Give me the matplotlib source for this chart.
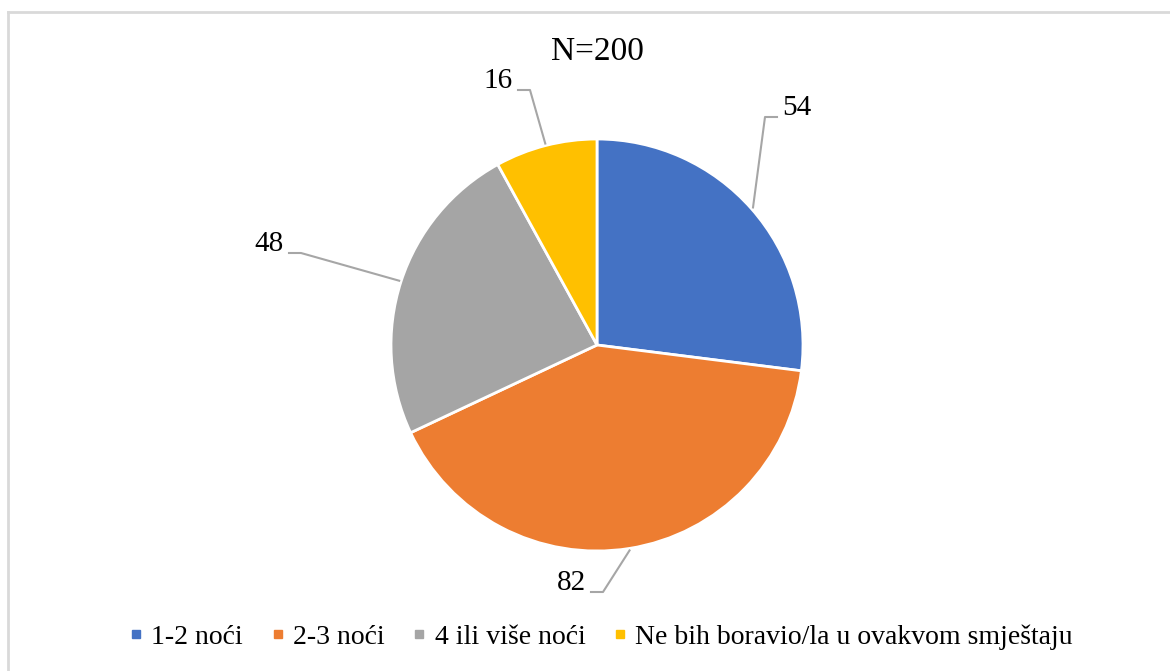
import numpy as np
import matplotlib
matplotlib.use("Agg")
import matplotlib.pyplot as plt
from matplotlib.lines import Line2D

# --- podaci ---
kategorije = ["1-2 noći", "2-3 noći", "4 ili više noći", "Ne bih boravio/la u ovakvom smještaju"]
vrijednosti = [54, 82, 48, 16]
naslov = "N=200"
boje = ["#4472C4", "#ED7D31", "#A5A5A5", "#FFC000"]

plt.rcParams['font.family'] = ['Liberation Serif', 'DejaVu Serif']

W, H = 1170, 671
fig = plt.figure(figsize=(W / 100, H / 100), dpi=100)
ax = fig.add_axes([0, 0, 1, 1])

# pozicije u pikselima (y od vrha slike)
cx, cy, r = 597, 345, 206


def py(y):
    return H - y


wedges, _ = ax.pie(vrijednosti, colors=boje, startangle=90, counterclock=False,
                   center=(cx, py(cy)), radius=r,
                   wedgeprops=dict(edgecolor="white", linewidth=2))

ax.set_xlim(0, W)
ax.set_ylim(0, H)
ax.set_aspect("equal")
ax.axis("off")

# okvir grafikona (vidljivi samo gornji i lijevi rub)
ax.plot([8, 8], [py(12), 0], color="#d9d9d9", lw=2, clip_on=False)
ax.plot([8, W], [py(12), py(12)], color="#d9d9d9", lw=2, clip_on=False)

ax.text(cx, py(52), naslov, ha="center", va="center", fontsize=24)

# oznake podataka s linijama vodilicama: (x teksta, y teksta, strana)
oznake = [(782, 108, "left"), (586, 583, "right"), (284, 244, "right"), (513, 81, "right")]
kut = 90.0
ukupno = sum(vrijednosti)
for w, v, (tx, ty, strana) in zip(wedges, vrijednosti, oznake):
    span = 360.0 * v / ukupno
    sredina = np.deg2rad(kut - span / 2)
    kut -= span
    ex = cx + (r + 2) * np.cos(sredina)
    ey = py(cy) + (r + 2) * np.sin(sredina)
    ly = py(ty + 9)
    if strana == "left":
        hx = [tx - 5, tx - 17]
    else:
        hx = [tx + 5, tx + 17]
    ax.plot([hx[0], hx[1], ex], [ly, ly, ey], color="#a6a6a6", lw=1.5)
    ax.text(tx, py(ty), str(v), ha=strana, va="center", fontsize=21)

handles = [Line2D([], [], marker="s", linestyle="none", markersize=6,
                  markerfacecolor=c, markeredgecolor=c) for c in boje]
ax.legend(handles, kategorije, loc="center", bbox_to_anchor=(601 / W, 1 - 637 / H),
          ncol=4, frameon=False, fontsize=20, handlelength=0.5,
          handletextpad=0.3, columnspacing=1.0)

fig.savefig("out.png", dpi=100, facecolor="white")
